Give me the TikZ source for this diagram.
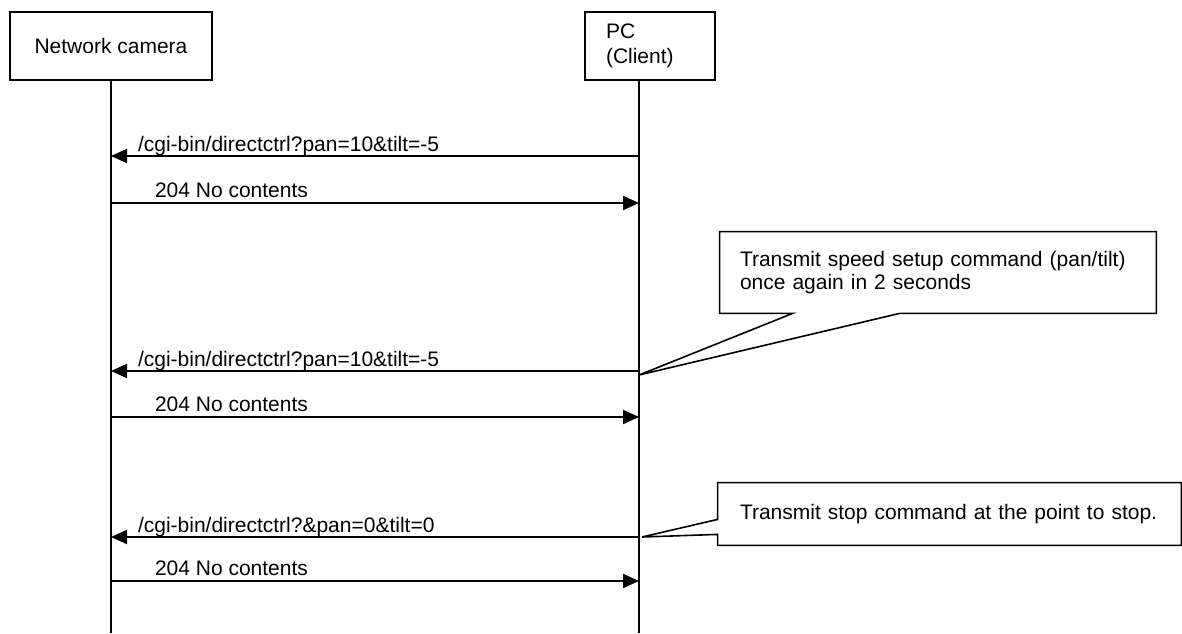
\documentclass[tikz,border=0pt]{standalone}
\usepackage{fontspec}
\setmainfont{Liberation Sans}
\usetikzlibrary{arrows.meta,positioning,calc}
\tikzset{
  actor/.style = {draw=black, line width=0.8pt, inner sep=0pt,
    font=\fontsize{10.5pt}{12.5pt}\selectfont},% participant box
  life/.style = {draw=black, line width=0.8pt},% lifeline
  msg/.style = {draw=black, line width=1pt,
    -{Triangle[length=8pt,width=7pt]}},% message arrow
  lbl/.style = {inner sep=0pt, anchor=base west,
    font=\fontsize{10.5pt}{12.5pt}\selectfont},% message text
  note/.style = {inner sep=0pt, align=left,
    font=\fontsize{10.5pt}{11.5pt}\selectfont},% callout text
  balloon/.style = {draw=black, line width=0.8pt, line join=miter}% callout outline
}

\begin{document}
\begin{tikzpicture}[x=0.5pt,y=-0.5pt]
\useasboundingbox (0,0) rectangle (1182,633);
% participants
\node [actor, minimum width=101pt, minimum height=34pt] (cam) at (111,46) {Network camera};
\node [actor, minimum width=65pt, minimum height=34pt, align=left,
  text width=44pt] (pc) at (650,46) {PC\\(Client)};
\coordinate (camEnd) at (111,633);
\coordinate (pcEnd) at (639,633);
\draw [life] (cam.south) -- (camEnd);
\draw [life] (pcEnd |- pc.south) -- (pcEnd);
% message levels
\foreach \n/\y in {1/156,2/203,3/371,4/417,5/537,6/581} {
  \coordinate (c\n) at (camEnd |- 0,\y);
  \coordinate (p\n) at (pcEnd |- 0,\y);
}
\draw [msg] (p1) -- (c1) node [lbl, pos=1, xshift=13pt, yshift=2.5pt] {/cgi-bin/directctrl?pan=10\&tilt=-5};
\draw [msg] (c2) -- (p2) node [lbl, pos=0, xshift=21.5pt, yshift=3pt] {204 No contents};
\draw [msg] (p3) -- (c3) node [lbl, pos=1, xshift=13pt, yshift=2.5pt] {/cgi-bin/directctrl?pan=10\&tilt=-5};
\draw [msg] (c4) -- (p4) node [lbl, pos=0, xshift=21.5pt, yshift=3pt] {204 No contents};
\draw [msg] (p5) -- (c5) node [lbl, pos=1, xshift=13pt, yshift=2.5pt] {/cgi-bin/directctrl?\&pan=0\&tilt=0};
\draw [msg] (c6) -- (p6) node [lbl, pos=0, xshift=21.5pt, yshift=3pt] {204 No contents};
% callouts
\node [note, minimum width=218pt, minimum height=40.5pt, text width=198pt]
  (note1) at (938,272.5) {Transmit speed setup command (pan/tilt)\\once again in 2 seconds};
\coordinate (tip1) at (pcEnd |- 0,375);
\draw [balloon] (note1.north west) -- (note1.north east) -- (note1.south east)
  -- ($(note1.south west)+(180,0)$) -- (tip1) -- ($(note1.south west)+(73,0)$)
  -- (note1.south west) -- cycle;
\node [note, minimum width=231.5pt, minimum height=31pt, text width=209.5pt]
  (note2) at (949.5,514) {Transmit stop command at the point to stop.};
\coordinate (tip2) at ($(p5)+(3,0)$);
\draw [balloon] (note2.north west) -- (note2.north east) -- (note2.south east)
  -- (note2.south west) -- ($(note2.south west)+(0,-11)$) -- (tip2)
  -- ($(note2.south west)+(0,-26)$) -- cycle;
\end{tikzpicture}
\end{document}
